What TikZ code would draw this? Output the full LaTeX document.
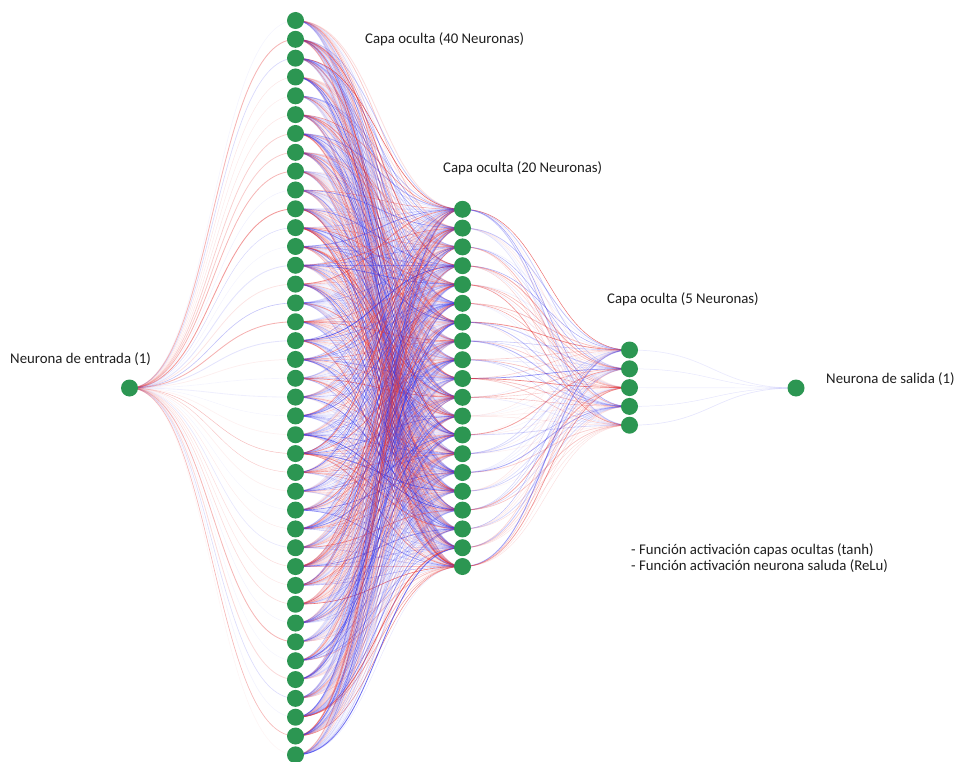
\documentclass[tikz,border=0pt]{standalone}
\usepackage{fontspec}
\setmainfont{Carlito}
\definecolor{ngreen}{RGB}{44,150,82}
\definecolor{wred}{RGB}{228,45,45}
\definecolor{wblue}{RGB}{50,50,235}
\definecolor{txt}{RGB}{30,30,30}
\pgfdeclarelayer{bg}
\pgfsetlayers{bg,main}
\tikzset{
  neuron/.style={circle,fill=ngreen,inner sep=0pt,minimum size=17pt},
  lbl/.style={anchor=west,inner sep=0pt,text=txt,font=\fontsize{14.8}{15.5}\selectfont},
}
% #1 from, #2 to, #3 control distance, #4 opacity scale, #5 share of red
\newcommand\nnedge[5]{%
  \pgfmathtruncatemacro\cp{rnd<#5 ? 100 : 0}%
  \pgfmathsetmacro\op{(0.05+0.6*rnd*rnd)*#4}%
  \pgfmathsetmacro\lw{0.35+0.55*rnd}%
  \draw[line width=\lw pt, draw=wred!\cp!wblue, draw opacity=\op]
    (#1.center) .. controls +(#3,0) and +(-#3,0) .. (#2.center);%
}
\begin{document}
\begin{tikzpicture}[x=1pt,y=-1pt]
\useasboundingbox (0,0) rectangle (960,762);
\pgfmathsetseed{7}
\node[neuron] (in) at (129.5,388) {};
\foreach \i in {1,...,40} { \node[neuron] (a\i) at (295.5,{20.5+(\i-1)*18.83}) {}; }
\foreach \j in {1,...,20} { \node[neuron] (b\j) at (462.5,{209.3+(\j-1)*18.8}) {}; }
\foreach \k in {1,...,5} { \node[neuron] (c\k) at (629.5,{350+(\k-1)*18.8}) {}; }
\node[neuron] (out) at (796,388) {};
\begin{pgfonlayer}{bg}
  \foreach \i in {1,...,40} { \nnedge{in}{a\i}{83}{0.9}{0.5} }
  \foreach \i in {1,...,40} { \foreach \j in {1,...,20} { \nnedge{a\i}{b\j}{83}{1.25}{0.42} } }
  \foreach \j in {1,...,20} { \foreach \k in {1,...,5} { \nnedge{b\j}{c\k}{83}{1.1}{0.55} } }
  \foreach \k in {1,...,5} { \nnedge{c\k}{out}{83}{1}{0.5} }
\end{pgfonlayer}
\node[lbl] (t1) at (365,39) {Capa oculta (40 Neuronas)};
\node[lbl] (t2) at (443,168) {Capa oculta (20 Neuronas)};
\node[lbl] (t3) at (607,299) {Capa oculta (5 Neuronas)};
\node[lbl] (t4) at (10,359) {Neurona de entrada (1)};
\node[lbl] (t5) at (826,379) {Neurona de salida (1)};
\node[lbl,align=left] (t6) at (631,558) {- Función activación capas ocultas (tanh)\\- Función activación neurona saluda (ReLu)};
\end{tikzpicture}
\end{document}
